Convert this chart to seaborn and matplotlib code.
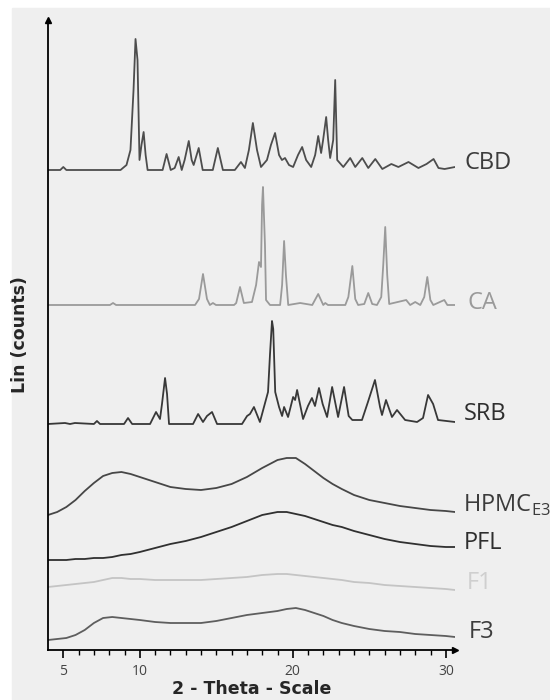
import numpy as np
import pandas as pd
import seaborn as sns
import matplotlib.pyplot as plt
from matplotlib.patches import Rectangle

# traces: 2-theta positions and intensity above each trace's own baseline
cbd_theta = [4.0, 4.8, 5.0, 5.2, 8.74, 9.13, 9.39, 9.59, 9.72, 9.85, 9.98, 10.11, 10.25, 10.38, 10.51,
             11.49, 11.75, 12.02, 12.28, 12.54, 12.74, 12.93, 13.2, 13.39, 13.52, 13.85, 14.11, 14.77,
             15.1, 15.43, 16.21, 16.61, 16.87, 17.13, 17.39, 17.66, 17.92, 18.31, 18.57, 18.84, 19.1,
             19.29, 19.49, 19.75, 20.02, 20.34, 20.61, 20.87, 21.2, 21.46, 21.66, 21.85, 21.98, 22.18,
             22.31, 22.44, 22.64, 22.77, 22.9, 23.3, 23.75, 24.08, 24.54, 24.93, 25.39, 25.85, 26.44,
             26.9, 27.56, 28.21, 28.74, 29.2, 29.52, 29.92, 30.6]
cbd_counts = [0, 0, 3, 0, 0, 5, 20, 80, 131, 110, 10, 25, 38, 15, 0,
              0, 16, 0, 2, 13, 0, 10, 29, 10, 5, 22, 0, 0,
              22, 0, 0, 8, 2, 20, 47, 20, 3, 10, 25, 37, 15,
              10, 12, 5, 3, 15, 23, 10, 3, 15, 34, 17, 30, 53,
              30, 12, 30, 90, 10, 3, 12, 3, 12, 2, 11, 1, 6,
              3, 8, 2, 6, 11, 2, 1, 3]

ca_theta = [4.0, 8.05, 8.25, 8.45, 13.61, 13.87, 14.13, 14.39, 14.58, 14.78, 14.98, 16.16, 16.3, 16.55,
            16.8, 17.33, 17.6, 17.79, 17.92, 17.99, 18.05, 18.18, 18.25, 18.51, 19.17, 19.3, 19.43,
            19.55, 19.7, 20.48, 21.27, 21.66, 21.99, 22.12, 22.3, 23.43, 23.63, 23.89, 24.08, 24.27,
            24.67, 24.93, 25.19, 25.5, 25.78, 25.91, 26.04, 26.17, 26.3, 27.41, 27.67, 28.0, 28.33,
            28.59, 28.79, 28.99, 29.18, 29.9, 30.1, 30.6]
ca_counts = [0, 0, 2, 0, 0, 6, 31, 6, 0, 2, 0, 0, 2, 18,
             2, 3, 20, 43, 38, 100, 118, 60, 5, 0, 0, 20, 64,
             30, 0, 2, 0, 11, 0, 2, 0, 0, 8, 39, 6, 0,
             1, 12, 1, 0, 8, 40, 78, 30, 1, 5, 0, 3, 0,
             8, 28, 5, 0, 5, 0, 0]

srb_theta = [4.0, 5.11, 5.44, 5.76, 7.0, 7.2, 7.4, 8.97, 9.23, 9.5, 10.67, 11.06, 11.32, 11.45, 11.65,
             11.78, 11.91, 13.48, 13.81, 14.13, 14.39, 14.72, 15.05, 16.68, 17.01, 17.2, 17.46, 17.85,
             18.38, 18.51, 18.64, 18.72, 18.85, 19.1, 19.3, 19.43, 19.69, 20.02, 20.15, 20.28, 20.67,
             20.99, 21.25, 21.45, 21.71, 21.95, 22.24, 22.57, 22.96, 23.35, 23.65, 23.89, 24.52, 24.91,
             25.37, 25.7, 25.83, 26.09, 26.48, 26.81, 27.34, 28.12, 28.51, 28.84, 29.17, 29.49, 30.6]
srb_counts = [0, 1, 0, 1, 0, 3, 0, 0, 6, 0, 0, 12, 5, 20, 46,
              30, 0, 0, 10, 2, 8, 12, 0, 0, 8, 10, 17, 2,
              32, 70, 103, 95, 32, 17, 8, 17, 7, 27, 24, 34, 5,
              18, 26, 18, 36, 20, 7, 37, 7, 37, 8, 4, 4, 22,
              44, 17, 9, 24, 7, 14, 4, 2, 6, 29, 20, 4, 2]

amorph_theta = [4.0, 4.6, 5.2, 5.8, 6.4, 7.0, 7.6, 8.2, 8.8, 9.4, 10.0, 11.0, 12.0, 13.0, 14.0, 15.0,
                16.0, 17.0, 18.0, 19.0, 19.6, 20.2, 20.8, 21.4, 22.0, 22.6, 23.2, 24.0, 25.0, 26.0,
                27.0, 28.0, 29.0, 30.0, 30.6]
hpmc_counts = [0, 3, 8, 15, 24, 32, 39, 42, 43, 41, 38, 33, 28, 26, 25, 27,
               31, 38, 47, 55, 57, 57, 51, 44, 37, 31, 26, 20, 15, 12,
               9, 7, 5, 4, 3]
pfl_counts = [0, 0, 0, 1, 1, 2, 2, 3, 5, 6, 8, 12, 16, 19, 23, 28,
              33, 39, 45, 48, 48, 46, 44, 41, 38, 35, 33, 29, 25, 21,
              18, 16, 14, 13, 13]
f1_counts = [3, 4, 5, 6, 7, 8, 10, 12, 12, 11, 11, 10, 10, 10, 10, 11,
             12, 13, 15, 16, 16, 15, 14, 13, 12, 11, 10, 8, 7, 5,
             4, 3, 2, 1, 0]
f3_counts = [0, 1, 2, 5, 10, 17, 22, 23, 22, 21, 20, 18, 17, 17, 17, 19,
             22, 25, 27, 29, 31, 32, 30, 27, 24, 20, 17, 14, 11, 9,
             8, 6, 5, 4, 3]

names = ["CBD", "CA", "SRB", "HPMC", "PFL", "F1", "F3"]
offsets = [480, 345, 226, 135, 90, 60, 10]
line_colors = ["#4d4d4d", "#9a9a9a", "#383838", "#474747", "#303030", "#c4c4c4", "#5e5e5e"]
text_colors = ["#3c3c3c", "#9a9a9a", "#2e2e2e", "#3c3c3c", "#2e2e2e", "#cfcfcf", "#3c3c3c"]
label_y = [487, 347, 236, 145, 107, 67, 18]
label_x = [31.2, 31.4, 31.2, 31.1, 31.2, 31.4, 31.5]

traces = [(cbd_theta, cbd_counts), (ca_theta, ca_counts), (srb_theta, srb_counts),
          (amorph_theta, hpmc_counts), (amorph_theta, pfl_counts),
          (amorph_theta, f1_counts), (amorph_theta, f3_counts)]

sns.set_theme(style="white")
plt.rcParams['font.family'] = ['Open Sans', 'DejaVu Sans']

fig = plt.figure(figsize=(5.5, 7), dpi=100)
fig.patch.set_facecolor("white")
fig.add_artist(Rectangle((12 / 550, 0), 1, 692 / 700, transform=fig.transFigure,
                         color="#efefef", zorder=0))
ax = fig.add_axes([48 / 550, 50 / 700, 407 / 550, 630 / 700])
ax.set_facecolor("none")

for (theta, counts), off, col in zip(traces, offsets, line_colors):
    df = pd.DataFrame({"theta": theta, "lin": np.array(counts) + off})
    sns.lineplot(data=df, x="theta", y="lin", color=col, lw=1.3, ax=ax)

for name, tx, ty, tc in zip(names, label_x, label_y, text_colors):
    text = name if name != "HPMC" else r"HPMC$_{\mathregular{E3}}$"
    ax.text(tx, ty, text, color=tc, fontsize=17, va="center", ha="left", clip_on=False)

ax.set_xlim(4.0, 30.6)
ax.set_ylim(0, 630)
sns.despine(ax=ax)
for s in ["left", "bottom"]:
    ax.spines[s].set_color("black")
    ax.spines[s].set_linewidth(1.3)
ax.plot([0], [1], marker="^", color="black", ms=5, transform=ax.transAxes, clip_on=False)
ax.plot([1], [0], marker=">", color="black", ms=5, transform=ax.transAxes, clip_on=False)

ax.set_yticks([])
ax.set_xticks([5, 10, 20, 30])
ax.set_xticks(range(5, 31), minor=True)
ax.tick_params(axis="x", which="major", bottom=True, direction="out", length=6, width=1.2,
               color="black", labelsize=10, labelcolor="#444444", pad=4)
ax.tick_params(axis="x", which="minor", bottom=True, direction="out", length=3.5, width=1.0,
               color="black")

ax.set_xlabel("2 - Theta - Scale", fontsize=12.5, fontweight="bold", family="DejaVu Sans",
              labelpad=1)
ax.set_ylabel("Lin (counts)", fontsize=12.5, fontweight="bold", family="DejaVu Sans",
              labelpad=14)

fig.savefig("out.png", dpi=100)
